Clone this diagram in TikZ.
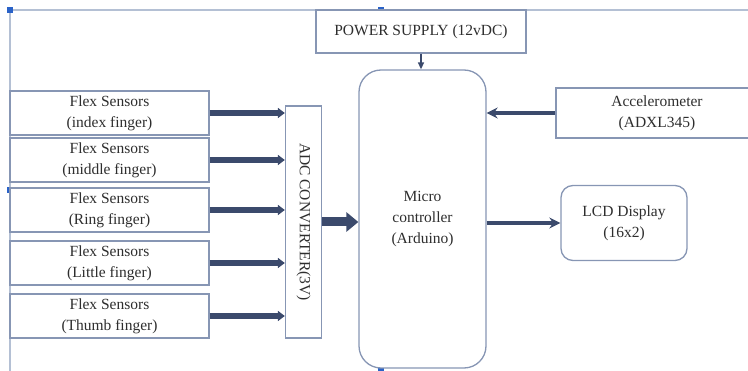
\documentclass[tikz,border=0pt]{standalone}
\usepackage{fontspec}
\setmainfont{Liberation Serif}
\usepackage{graphicx}
\usetikzlibrary{arrows.meta}
\definecolor{boxline}{HTML}{8796B4}
\definecolor{arrowink}{HTML}{3B4A6C}
\definecolor{textink}{HTML}{2E2E2E}
\definecolor{frameline}{HTML}{B4C0D4}
\definecolor{handle}{HTML}{2A62C8}

\begin{document}
\begin{tikzpicture}[x=1pt, y=-1pt,
  block/.style  = {draw=boxline, line width=1.3pt, fill=white, align=center,
                   inner sep=0pt, text=textink, font=\fontsize{15.5}{21}\selectfont},
  round/.style  = {rounded corners=12pt},
  sig/.style    = {draw=arrowink, line width=5.5pt, -{Triangle[length=7pt,width=10pt]}},
  bus/.style    = {draw=arrowink, line width=9pt, -{Triangle[length=12pt,width=19pt]}},
  link/.style   = {draw=arrowink, line width=3.4pt, -{Stealth[length=11pt,width=11pt]}},
  feed/.style   = {draw=arrowink, line width=1.5pt, -{Triangle[length=7pt,width=6pt]}},
  frame/.style  = {draw=frameline, line width=1.2pt},
  grip/.style   = {fill=handle},
]
  \useasboundingbox (0,0) rectangle (748,371);
  \clip (0,0) rectangle (748,371);

  % the selected frame the figure sits in
  \draw[frame] (10,371) -- (10,10) -- (748,10);
  \foreach \gx/\gy in {10/10, 381/10, 10/190, 381/370}
    \fill[grip] (\gx-3,\gy-3) rectangle (\gx+3,\gy+3);

  \node[block, minimum width=210, minimum height=43] (power) at (421,31.5) {POWER SUPPLY (12vDC)};
  \node[block, rounded corners=22pt, minimum width=127, minimum height=298] (micro) at (422.5,219) {Micro\\controller\\(Arduino)};
  \node[block, minimum width=36, minimum height=232] (adc) at (303.5,222) {\rotatebox{-90}{ADC CONVERTER(3V)}};
  \node[block, minimum width=202, minimum height=50] (accel) at (657,113) {Accelerometer\\(ADXL345)};
  \node[block, round, minimum width=126, minimum height=75] (lcd) at (624,223) {LCD Display\\(16x2)};

  \node[block, minimum width=199, minimum height=44] (index)  at (109.5,113) {Flex Sensors\\(index finger)};
  \node[block, minimum width=199, minimum height=44] (middle) at (109.5,160) {Flex Sensors\\(middle finger)};
  \node[block, minimum width=199, minimum height=44] (ring)   at (109.5,210) {Flex Sensors\\(Ring finger)};
  \node[block, minimum width=199, minimum height=44] (little) at (109.5,263) {Flex Sensors\\(Little finger)};
  \node[block, minimum width=199, minimum height=44] (thumb)  at (109.5,316) {Flex Sensors\\(Thumb finger)};

  % each finger feeds the converter
  \foreach \f in {index,middle,ring,little,thumb}
    \draw[sig] (\f.east) -- (\f.east -| adc.west);

  \draw[bus] (adc.east) -- (adc.east -| micro.west);
  \draw[feed] (power.south) -- (power.south |- micro.north);
  \draw[link] (accel.west) -- (accel.west -| micro.east);
  \draw[link] (micro.east |- lcd.west) -- (lcd.west);
\end{tikzpicture}
\end{document}
